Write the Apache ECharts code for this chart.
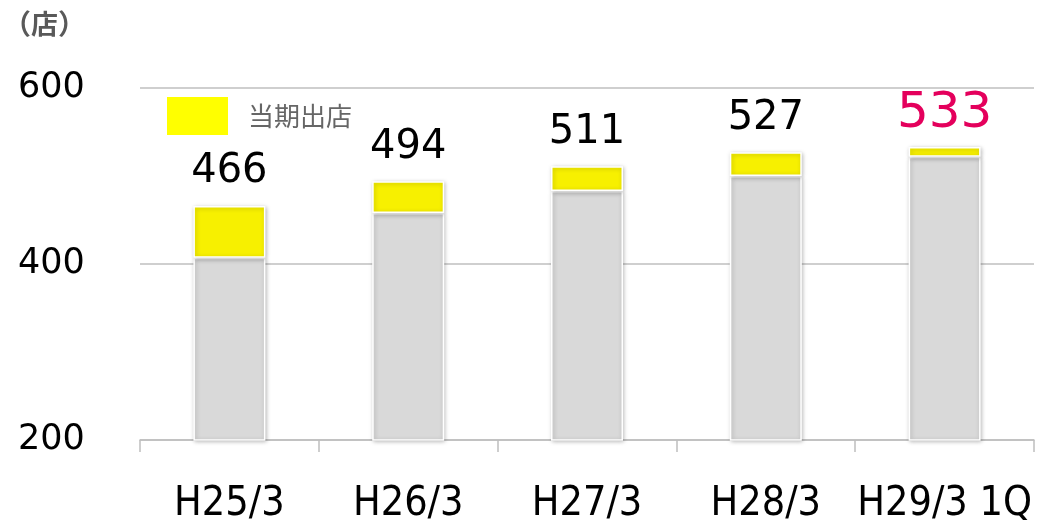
<!DOCTYPE html>
<html>
<head>
<meta charset="utf-8">
<style>
  html, body { margin: 0; padding: 0; background: #fff; }
  #chart { width: 1037px; height: 520px; }
</style>
<script src="https://cdn.jsdelivr.net/npm/echarts@6/dist/echarts.min.js"></script>
</head>
<body>
<div id="chart"></div>
<script>
// 決算期
const categories = ['H25/3', 'H26/3', 'H27/3', 'H28/3', 'H29/3 1Q'];
// 期首店舗数（グレー）
const baseStores = [407, 458, 483, 500, 522];
// 当期出店（黄色）
const newStores = [59, 36, 28, 27, 11];
// 合計店舗数ラベル
const totalLabels = [466, 494, 511, 527, 533];
const yTicks = { min: 200, max: 600, interval: 200 };

const chart = echarts.init(document.getElementById('chart'));

const barStyle = {
  borderColor: '#fff',
  borderWidth: 1.5,
  shadowBlur: 4,
  shadowColor: 'rgba(0,0,0,0.25)',
  shadowOffsetX: 1,
  shadowOffsetY: 1
};

const newData = newStores.map((v, i) => {
  const last = i === newStores.length - 1;
  return {
    value: v,
    label: {
      color: last ? '#e4005c' : '#000',
      fontSize: last ? 50 : 40,
      distance: last ? 8 : 14
    }
  };
});

chart.setOption({
  animation: false,
  title: {
    text: '{a|（}{b|店}{a|）}',
    left: 3,
    top: 10,
    padding: 0,
    textStyle: {
      rich: {
        a: { color: '#595959', fontSize: 28, fontWeight: 'bold', fontFamily: 'Noto Sans CJK JP' },
        b: { color: '#595959', fontSize: 27, fontWeight: 'bold', fontFamily: 'Noto Sans CJK JP' }
      }
    }
  },
  legend: {
    data: [{ name: '当期出店', itemStyle: { color: '#ffff00', borderWidth: 0, shadowBlur: 0 } }],
    left: 167,
    top: 97,
    padding: 0,
    icon: 'rect',
    itemWidth: 61,
    itemHeight: 38,
    itemGap: 10,
    textStyle: { color: '#666', fontSize: 26, fontFamily: 'Noto Sans CJK JP', padding: [0, 0, 8, 15] }
  },
  grid: { left: 140, right: 3, top: 88, bottom: 80, outerBoundsMode: 'none' },
  xAxis: {
    type: 'category',
    data: categories,
    axisLine: { lineStyle: { color: '#bfbfbf', width: 1.5 } },
    axisTick: { show: true, interval: 0, length: 12, lineStyle: { color: '#bfbfbf', width: 1.5 } },
    axisLabel: {
      interval: 0,
      color: '#000',
      fontSize: 41,
      fontFamily: 'DejaVu Sans Condensed',
      margin: 44
    }
  },
  yAxis: {
    type: 'value',
    min: yTicks.min,
    max: yTicks.max,
    interval: yTicks.interval,
    axisLine: { show: false },
    axisTick: { show: false },
    splitLine: { lineStyle: { color: '#bfbfbf', width: 1.5 } },
    axisLabel: {
      color: '#000',
      fontSize: 35,
      fontFamily: 'DejaVu Sans',
      align: 'left',
      margin: 122,
      padding: [0, 0, 18, 0]
    }
  },
  series: [
    {
      name: '期首',
      type: 'bar',
      stack: 'total',
      barWidth: 72,
      data: baseStores,
      itemStyle: Object.assign({ color: '#d9d9d9' }, barStyle)
    },
    {
      name: '当期出店',
      type: 'bar',
      stack: 'total',
      barWidth: 72,
      data: newData,
      itemStyle: Object.assign({ color: '#f7f000' }, barStyle),
      label: {
        show: true,
        position: 'top',
        fontFamily: 'DejaVu Sans',
        formatter: (p) => totalLabels[p.dataIndex]
      }
    }
  ]
});
</script>
</body>
</html>
